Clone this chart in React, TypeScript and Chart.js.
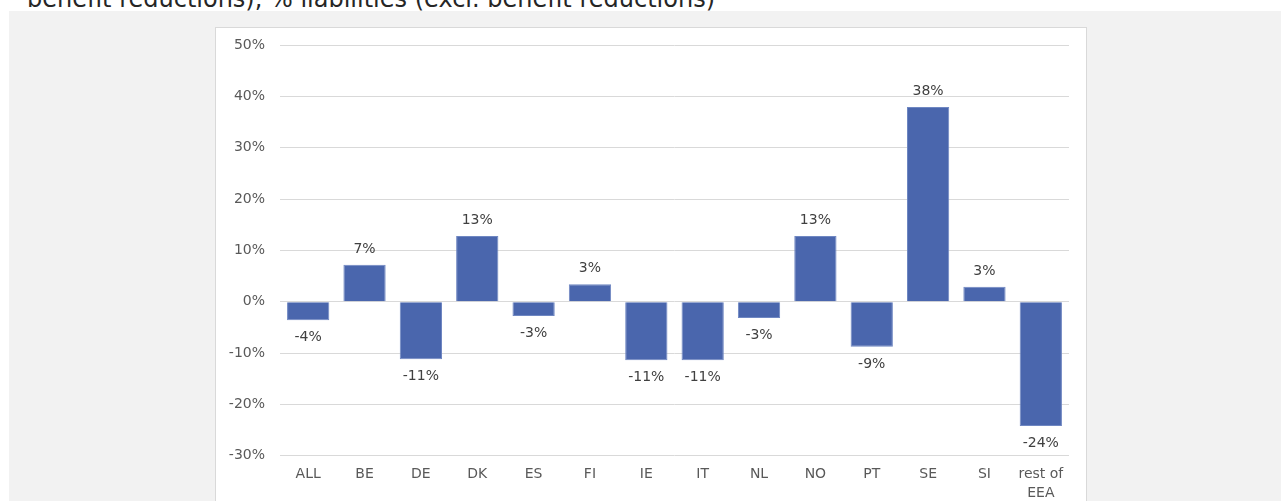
import React, { useEffect, useRef } from "react";
import { Chart, registerables } from "chart.js";

Chart.register(...registerables);

const categories: (string | string[])[] = [
  "ALL", "BE", "DE", "DK", "ES", "FI", "IE", "IT", "NL", "NO", "PT", "SE", "SI", ["rest of", "EEA"],
];
const values: number[] = [-3.6, 7.2, -11.2, 12.8, -2.8, 3.4, -11.4, -11.4, -3.2, 12.8, -8.8, 37.9, 2.9, -24.2];
const yMin = -30;
const yMax = 50;
const yStep = 10;
const titleText = "benefit reductions), % liabilities (excl. benefit reductions)";

const FONT = '"DejaVu Sans", Verdana, sans-serif';

const valueLabelPlugin = {
  id: "valueLabels",
  afterDatasetsDraw(chart: any) {
    const ctx = chart.ctx;
    const meta = chart.getDatasetMeta(0);
    ctx.save();
    ctx.font = `14px ${FONT}`;
    ctx.fillStyle = "#404040";
    ctx.textAlign = "center";
    ctx.textBaseline = "middle";
    meta.data.forEach((bar: any, i: number) => {
      const v = values[i];
      const y = v >= 0 ? bar.y - 15.5 : bar.y + 17;
      ctx.fillText(Math.round(v) + "%", bar.x, y);
    });
    ctx.restore();
  },
};

export default function App() {
  const ref = useRef<HTMLCanvasElement>(null);
  useEffect(() => {
    if (!ref.current) return;
    const chart = new Chart(ref.current, {
      type: "bar",
      data: {
        labels: categories as any,
        datasets: [
          {
            data: values,
            backgroundColor: "#4a66ad",
            borderColor: "#6f87c2",
            borderWidth: 1,
            barPercentage: 0.75,
            categoryPercentage: 1,
          },
        ],
      },
      options: {
        animation: false,
        responsive: false,
        maintainAspectRatio: false,
        layout: { padding: { top: 45, left: 0, right: 212, bottom: 0 } },
        plugins: { legend: { display: false }, tooltip: { enabled: false } },
        scales: {
          x: {
            grid: { display: false, drawTicks: false },
            border: { display: false },
            ticks: {
              color: "#595959",
              font: { family: FONT, size: 14, lineHeight: 1.3 },
              padding: 10,
              maxRotation: 0,
              autoSkip: false,
            },
            afterFit(scale: any) {
              scale.height = 45.3;
            },
          },
          y: {
            min: yMin,
            max: yMax,
            grid: { color: "#d9d9d9", lineWidth: 1, drawTicks: false },
            border: { display: false },
            ticks: {
              stepSize: yStep,
              color: "#595959",
              font: { family: FONT, size: 14 },
              padding: 15,
              callback: (v: any) => v + "%",
            },
            afterFit(scale: any) {
              scale.width = 280;
            },
          },
        },
      },
      plugins: [valueLabelPlugin],
    });
    return () => chart.destroy();
  }, []);

  return (
    <div
      style={{
        position: "fixed",
        left: 0,
        top: 0,
        width: 1281,
        height: 501,
        overflow: "hidden",
        background: "#ffffff",
      }}
    >
      <div
        style={{
          position: "absolute",
          left: 9,
          top: 11,
          width: 1272,
          height: 490,
          background: "#f2f2f2",
        }}
      />
      <div
        style={{
          position: "absolute",
          left: 27,
          top: -13,
          fontFamily: FONT,
          fontSize: 24,
          lineHeight: "24px",
          color: "#262626",
          whiteSpace: "nowrap",
        }}
      >
        {titleText}
      </div>
      <div
        style={{
          position: "absolute",
          left: 215,
          top: 27,
          width: 872,
          height: 490,
          background: "#ffffff",
          border: "1px solid #d9d9d9",
          boxSizing: "border-box",
        }}
      />
      <canvas
        ref={ref}
        width={1281}
        height={501}
        style={{ position: "absolute", left: 0, top: 0, width: 1281, height: 501 }}
      />
    </div>
  );
}
